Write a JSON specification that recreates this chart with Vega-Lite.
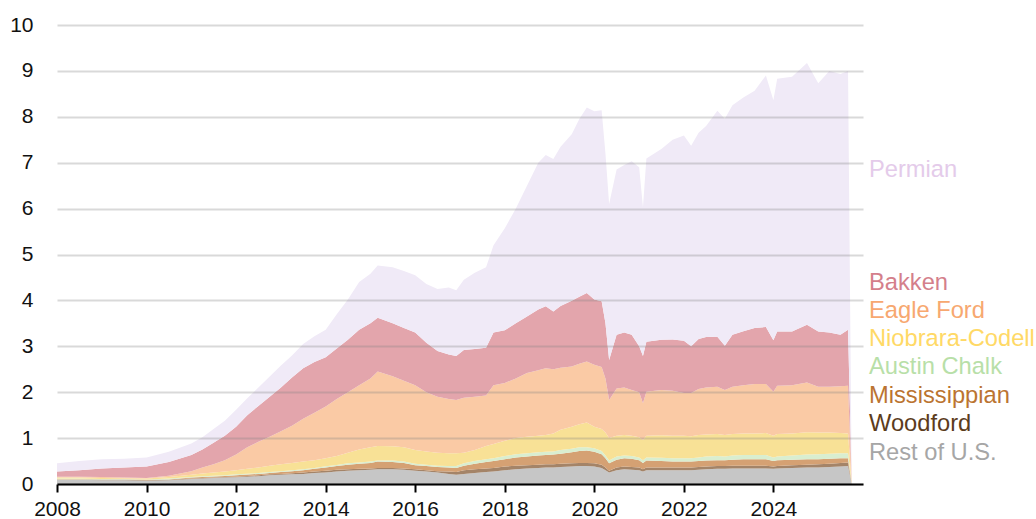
{
  "$schema": "https://vega.github.io/schema/vega-lite/v6.json",
  "width": 806,
  "height": 459,
  "autosize": {"type": "none"},
  "padding": {"left": 57, "top": 25, "right": 173, "bottom": 35},
  "background": "white",
  "config": {"view": {"stroke": null}, "font": "Liberation Sans"},
  "layer": [
    {
      "data": {"values": [
        {"d":"2008/01/01","Rest":0.09,"Woodford":0.005,"Mississippian":0.01,"Austin":0.015,"Niobrara":0.02,"Eagle":0.02,"Bakken":0.11,"Permian":0.18},
        {"d":"2008/07/01","Rest":0.09,"Woodford":0.005,"Mississippian":0.01,"Austin":0.015,"Niobrara":0.02,"Eagle":0.02,"Bakken":0.14,"Permian":0.2},
        {"d":"2009/01/01","Rest":0.08,"Woodford":0.01,"Mississippian":0.01,"Austin":0.01,"Niobrara":0.02,"Eagle":0.02,"Bakken":0.19,"Permian":0.2},
        {"d":"2009/07/01","Rest":0.08,"Woodford":0.01,"Mississippian":0.01,"Austin":0.01,"Niobrara":0.015,"Eagle":0.015,"Bakken":0.22,"Permian":0.19},
        {"d":"2010/01/01","Rest":0.07,"Woodford":0.01,"Mississippian":0.01,"Austin":0.01,"Niobrara":0.02,"Eagle":0.01,"Bakken":0.25,"Permian":0.2},
        {"d":"2010/07/01","Rest":0.08,"Woodford":0.01,"Mississippian":0.01,"Austin":0.02,"Niobrara":0.03,"Eagle":0.03,"Bakken":0.3,"Permian":0.22},
        {"d":"2011/01/01","Rest":0.11,"Woodford":0.01,"Mississippian":0.02,"Austin":0.015,"Niobrara":0.045,"Eagle":0.08,"Bakken":0.35,"Permian":0.25},
        {"d":"2011/04/01","Rest":0.12,"Woodford":0.01,"Mississippian":0.025,"Austin":0.015,"Niobrara":0.06,"Eagle":0.13,"Bakken":0.39,"Permian":0.27},
        {"d":"2011/07/01","Rest":0.13,"Woodford":0.01,"Mississippian":0.025,"Austin":0.015,"Niobrara":0.07,"Eagle":0.18,"Bakken":0.47,"Permian":0.3},
        {"d":"2011/10/01","Rest":0.14,"Woodford":0.01,"Mississippian":0.025,"Austin":0.015,"Niobrara":0.08,"Eagle":0.25,"Bakken":0.53,"Permian":0.33},
        {"d":"2012/01/01","Rest":0.145,"Woodford":0.015,"Mississippian":0.03,"Austin":0.02,"Niobrara":0.09,"Eagle":0.34,"Bakken":0.61,"Permian":0.37},
        {"d":"2012/04/01","Rest":0.16,"Woodford":0.015,"Mississippian":0.03,"Austin":0.02,"Niobrara":0.105,"Eagle":0.47,"Bakken":0.7,"Permian":0.37},
        {"d":"2012/07/01","Rest":0.17,"Woodford":0.02,"Mississippian":0.03,"Austin":0.02,"Niobrara":0.12,"Eagle":0.56,"Bakken":0.78,"Permian":0.4},
        {"d":"2012/10/01","Rest":0.19,"Woodford":0.02,"Mississippian":0.03,"Austin":0.02,"Niobrara":0.14,"Eagle":0.63,"Bakken":0.87,"Permian":0.44},
        {"d":"2013/01/01","Rest":0.2,"Woodford":0.02,"Mississippian":0.04,"Austin":0.02,"Niobrara":0.15,"Eagle":0.72,"Bakken":0.95,"Permian":0.48},
        {"d":"2013/04/01","Rest":0.21,"Woodford":0.025,"Mississippian":0.045,"Austin":0.02,"Niobrara":0.16,"Eagle":0.81,"Bakken":1.05,"Permian":0.48},
        {"d":"2013/07/01","Rest":0.22,"Woodford":0.03,"Mississippian":0.05,"Austin":0.02,"Niobrara":0.17,"Eagle":0.93,"Bakken":1.1,"Permian":0.53},
        {"d":"2013/10/01","Rest":0.24,"Woodford":0.03,"Mississippian":0.06,"Austin":0.02,"Niobrara":0.17,"Eagle":1.03,"Bakken":1.11,"Permian":0.56},
        {"d":"2014/01/01","Rest":0.25,"Woodford":0.04,"Mississippian":0.07,"Austin":0.025,"Niobrara":0.175,"Eagle":1.13,"Bakken":1.07,"Permian":0.6},
        {"d":"2014/04/01","Rest":0.27,"Woodford":0.04,"Mississippian":0.08,"Austin":0.025,"Niobrara":0.195,"Eagle":1.24,"Bakken":1.1,"Permian":0.75},
        {"d":"2014/07/01","Rest":0.29,"Woodford":0.03,"Mississippian":0.1,"Austin":0.03,"Niobrara":0.23,"Eagle":1.32,"Bakken":1.14,"Permian":0.88},
        {"d":"2014/10/01","Rest":0.3,"Woodford":0.03,"Mississippian":0.11,"Austin":0.03,"Niobrara":0.28,"Eagle":1.4,"Bakken":1.21,"Permian":1.04},
        {"d":"2015/01/01","Rest":0.31,"Woodford":0.03,"Mississippian":0.12,"Austin":0.03,"Niobrara":0.31,"Eagle":1.5,"Bakken":1.2,"Permian":1.08},
        {"d":"2015/03/01","Rest":0.32,"Woodford":0.03,"Mississippian":0.14,"Austin":0.02,"Niobrara":0.32,"Eagle":1.62,"Bakken":1.17,"Permian":1.14},
        {"d":"2015/07/01","Rest":0.32,"Woodford":0.03,"Mississippian":0.13,"Austin":0.03,"Niobrara":0.31,"Eagle":1.53,"Bakken":1.15,"Permian":1.22},
        {"d":"2015/10/01","Rest":0.31,"Woodford":0.03,"Mississippian":0.12,"Austin":0.03,"Niobrara":0.31,"Eagle":1.45,"Bakken":1.15,"Permian":1.24},
        {"d":"2016/01/01","Rest":0.29,"Woodford":0.03,"Mississippian":0.09,"Austin":0.03,"Niobrara":0.3,"Eagle":1.41,"Bakken":1.15,"Permian":1.25},
        {"d":"2016/04/01","Rest":0.27,"Woodford":0.03,"Mississippian":0.09,"Austin":0.03,"Niobrara":0.29,"Eagle":1.29,"Bakken":1.08,"Permian":1.28},
        {"d":"2016/07/01","Rest":0.25,"Woodford":0.03,"Mississippian":0.09,"Austin":0.03,"Niobrara":0.28,"Eagle":1.22,"Bakken":1.0,"Permian":1.35},
        {"d":"2016/10/01","Rest":0.22,"Woodford":0.05,"Mississippian":0.09,"Austin":0.03,"Niobrara":0.28,"Eagle":1.18,"Bakken":0.97,"Permian":1.46},
        {"d":"2016/12/01","Rest":0.2,"Woodford":0.06,"Mississippian":0.09,"Austin":0.04,"Niobrara":0.28,"Eagle":1.16,"Bakken":0.96,"Permian":1.43},
        {"d":"2017/02/01","Rest":0.22,"Woodford":0.08,"Mississippian":0.1,"Austin":0.05,"Niobrara":0.23,"Eagle":1.2,"Bakken":1.04,"Permian":1.53},
        {"d":"2017/05/01","Rest":0.24,"Woodford":0.08,"Mississippian":0.12,"Austin":0.06,"Niobrara":0.24,"Eagle":1.16,"Bakken":1.04,"Permian":1.66},
        {"d":"2017/08/01","Rest":0.26,"Woodford":0.08,"Mississippian":0.14,"Austin":0.06,"Niobrara":0.29,"Eagle":1.1,"Bakken":1.04,"Permian":1.75},
        {"d":"2017/10/01","Rest":0.27,"Woodford":0.08,"Mississippian":0.15,"Austin":0.06,"Niobrara":0.31,"Eagle":1.28,"Bakken":1.15,"Permian":1.9},
        {"d":"2018/01/01","Rest":0.3,"Woodford":0.08,"Mississippian":0.16,"Austin":0.07,"Niobrara":0.33,"Eagle":1.26,"Bakken":1.15,"Permian":2.22},
        {"d":"2018/04/01","Rest":0.32,"Woodford":0.08,"Mississippian":0.18,"Austin":0.07,"Niobrara":0.35,"Eagle":1.3,"Bakken":1.2,"Permian":2.5},
        {"d":"2018/07/01","Rest":0.34,"Woodford":0.07,"Mississippian":0.19,"Austin":0.07,"Niobrara":0.36,"Eagle":1.39,"Bakken":1.23,"Permian":2.85},
        {"d":"2018/10/01","Rest":0.35,"Woodford":0.07,"Mississippian":0.2,"Austin":0.07,"Niobrara":0.36,"Eagle":1.43,"Bakken":1.32,"Permian":3.2},
        {"d":"2018/12/01","Rest":0.36,"Woodford":0.07,"Mississippian":0.2,"Austin":0.07,"Niobrara":0.37,"Eagle":1.45,"Bakken":1.35,"Permian":3.3},
        {"d":"2019/02/01","Rest":0.36,"Woodford":0.07,"Mississippian":0.21,"Austin":0.07,"Niobrara":0.39,"Eagle":1.4,"Bakken":1.26,"Permian":3.32},
        {"d":"2019/04/01","Rest":0.37,"Woodford":0.07,"Mississippian":0.22,"Austin":0.08,"Niobrara":0.44,"Eagle":1.35,"Bakken":1.35,"Permian":3.47},
        {"d":"2019/07/01","Rest":0.38,"Woodford":0.07,"Mississippian":0.24,"Austin":0.08,"Niobrara":0.48,"Eagle":1.31,"Bakken":1.43,"Permian":3.63},
        {"d":"2019/09/01","Rest":0.39,"Woodford":0.07,"Mississippian":0.26,"Austin":0.08,"Niobrara":0.5,"Eagle":1.32,"Bakken":1.46,"Permian":3.87},
        {"d":"2019/11/01","Rest":0.39,"Woodford":0.07,"Mississippian":0.27,"Austin":0.07,"Niobrara":0.54,"Eagle":1.33,"Bakken":1.49,"Permian":4.04},
        {"d":"2020/01/01","Rest":0.38,"Woodford":0.07,"Mississippian":0.25,"Austin":0.08,"Niobrara":0.47,"Eagle":1.35,"Bakken":1.42,"Permian":4.1},
        {"d":"2020/03/01","Rest":0.35,"Woodford":0.07,"Mississippian":0.23,"Austin":0.07,"Niobrara":0.48,"Eagle":1.35,"Bakken":1.43,"Permian":4.16},
        {"d":"2020/04/01","Rest":0.3,"Woodford":0.06,"Mississippian":0.2,"Austin":0.06,"Niobrara":0.5,"Eagle":1.18,"Bakken":1.2,"Permian":3.7},
        {"d":"2020/05/01","Rest":0.25,"Woodford":0.04,"Mississippian":0.16,"Austin":0.06,"Niobrara":0.49,"Eagle":0.83,"Bakken":0.87,"Permian":3.4},
        {"d":"2020/07/01","Rest":0.3,"Woodford":0.06,"Mississippian":0.17,"Austin":0.07,"Niobrara":0.45,"Eagle":1.03,"Bakken":1.17,"Permian":3.6},
        {"d":"2020/09/01","Rest":0.32,"Woodford":0.06,"Mississippian":0.18,"Austin":0.06,"Niobrara":0.45,"Eagle":1.03,"Bakken":1.2,"Permian":3.65},
        {"d":"2020/11/01","Rest":0.31,"Woodford":0.06,"Mississippian":0.18,"Austin":0.06,"Niobrara":0.44,"Eagle":1.0,"Bakken":1.2,"Permian":3.78},
        {"d":"2021/01/01","Rest":0.3,"Woodford":0.06,"Mississippian":0.16,"Austin":0.06,"Niobrara":0.44,"Eagle":0.98,"Bakken":1.0,"Permian":3.9},
        {"d":"2021/02/01","Rest":0.27,"Woodford":0.05,"Mississippian":0.14,"Austin":0.06,"Niobrara":0.44,"Eagle":0.8,"Bakken":1.03,"Permian":3.24},
        {"d":"2021/03/01","Rest":0.3,"Woodford":0.06,"Mississippian":0.15,"Austin":0.07,"Niobrara":0.47,"Eagle":0.96,"Bakken":1.09,"Permian":3.99},
        {"d":"2021/07/01","Rest":0.3,"Woodford":0.06,"Mississippian":0.14,"Austin":0.07,"Niobrara":0.49,"Eagle":0.99,"Bakken":1.09,"Permian":4.16},
        {"d":"2021/10/01","Rest":0.3,"Woodford":0.06,"Mississippian":0.13,"Austin":0.07,"Niobrara":0.49,"Eagle":0.98,"Bakken":1.12,"Permian":4.35},
        {"d":"2022/01/01","Rest":0.3,"Woodford":0.06,"Mississippian":0.13,"Austin":0.07,"Niobrara":0.49,"Eagle":0.93,"Bakken":1.14,"Permian":4.47},
        {"d":"2022/03/01","Rest":0.3,"Woodford":0.06,"Mississippian":0.13,"Austin":0.07,"Niobrara":0.48,"Eagle":0.94,"Bakken":1.02,"Permian":4.37},
        {"d":"2022/05/01","Rest":0.31,"Woodford":0.06,"Mississippian":0.13,"Austin":0.08,"Niobrara":0.49,"Eagle":1.0,"Bakken":1.09,"Permian":4.49},
        {"d":"2022/07/01","Rest":0.32,"Woodford":0.06,"Mississippian":0.13,"Austin":0.09,"Niobrara":0.48,"Eagle":1.02,"Bakken":1.1,"Permian":4.6},
        {"d":"2022/10/01","Rest":0.33,"Woodford":0.06,"Mississippian":0.13,"Austin":0.09,"Niobrara":0.48,"Eagle":1.03,"Bakken":1.09,"Permian":4.92},
        {"d":"2022/12/01","Rest":0.33,"Woodford":0.06,"Mississippian":0.13,"Austin":0.08,"Niobrara":0.47,"Eagle":0.98,"Bakken":0.96,"Permian":4.95},
        {"d":"2023/02/01","Rest":0.34,"Woodford":0.06,"Mississippian":0.13,"Austin":0.09,"Niobrara":0.47,"Eagle":1.03,"Bakken":1.13,"Permian":5.0},
        {"d":"2023/05/01","Rest":0.34,"Woodford":0.06,"Mississippian":0.14,"Austin":0.09,"Niobrara":0.47,"Eagle":1.05,"Bakken":1.18,"Permian":5.09},
        {"d":"2023/08/01","Rest":0.34,"Woodford":0.06,"Mississippian":0.14,"Austin":0.09,"Niobrara":0.47,"Eagle":1.08,"Bakken":1.22,"Permian":5.17},
        {"d":"2023/11/01","Rest":0.34,"Woodford":0.06,"Mississippian":0.14,"Austin":0.09,"Niobrara":0.48,"Eagle":1.07,"Bakken":1.24,"Permian":5.48},
        {"d":"2024/01/01","Rest":0.33,"Woodford":0.05,"Mississippian":0.12,"Austin":0.08,"Niobrara":0.47,"Eagle":0.96,"Bakken":1.12,"Permian":5.23},
        {"d":"2024/02/01","Rest":0.34,"Woodford":0.05,"Mississippian":0.13,"Austin":0.08,"Niobrara":0.49,"Eagle":1.05,"Bakken":1.18,"Permian":5.51},
        {"d":"2024/06/01","Rest":0.35,"Woodford":0.06,"Mississippian":0.12,"Austin":0.09,"Niobrara":0.48,"Eagle":1.05,"Bakken":1.17,"Permian":5.55},
        {"d":"2024/10/01","Rest":0.36,"Woodford":0.06,"Mississippian":0.12,"Austin":0.1,"Niobrara":0.49,"Eagle":1.08,"Bakken":1.26,"Permian":5.7},
        {"d":"2025/01/01","Rest":0.36,"Woodford":0.07,"Mississippian":0.11,"Austin":0.11,"Niobrara":0.47,"Eagle":1.0,"Bakken":1.2,"Permian":5.41},
        {"d":"2025/04/01","Rest":0.37,"Woodford":0.07,"Mississippian":0.11,"Austin":0.11,"Niobrara":0.46,"Eagle":1.0,"Bakken":1.18,"Permian":5.7},
        {"d":"2025/07/01","Rest":0.38,"Woodford":0.08,"Mississippian":0.1,"Austin":0.11,"Niobrara":0.44,"Eagle":1.02,"Bakken":1.12,"Permian":5.68},
        {"d":"2025/09/01","Rest":0.39,"Woodford":0.08,"Mississippian":0.09,"Austin":0.11,"Niobrara":0.43,"Eagle":1.04,"Bakken":1.22,"Permian":5.64},
        {"d":"2025/10/01","Rest":0,"Woodford":0,"Mississippian":0,"Austin":0,"Niobrara":0,"Eagle":0,"Bakken":0,"Permian":0}
      ]},
      "transform": [
        {"fold": ["Rest","Woodford","Mississippian","Austin","Niobrara","Eagle","Bakken","Permian"], "as": ["series","value"]},
        {"lookup": "series", "from": {"data": {"values": [
          {"series":"Rest","k":1},{"series":"Woodford","k":2},{"series":"Mississippian","k":3},{"series":"Austin","k":4},
          {"series":"Niobrara","k":5},{"series":"Eagle","k":6},{"series":"Bakken","k":7},{"series":"Permian","k":8}
        ]}, "key": "series", "fields": ["k"]}}
      ],
      "mark": {"type": "area", "interpolate": "linear"},
      "encoding": {
        "x": {
          "field": "d", "type": "temporal",
          "scale": {"domain": [{"year":2008,"month":1,"date":1},{"year":2026,"month":1,"date":1}]},
          "axis": {
            "title": null, "format": "%Y",
            "values": [{"year":2008,"month":1,"date":1},{"year":2010,"month":1,"date":1},{"year":2012,"month":1,"date":1},{"year":2014,"month":1,"date":1},{"year":2016,"month":1,"date":1},{"year":2018,"month":1,"date":1},{"year":2020,"month":1,"date":1},{"year":2022,"month":1,"date":1},{"year":2024,"month":1,"date":1}],
            "grid": false, "domainColor": "#000000", "domainWidth": 2, "tickColor": "#000000", "tickWidth": 2, "tickSize": 8,
            "labelFontSize": 21, "labelColor": "#111111", "labelPadding": 6, "labelFlush": false, "labelFont": "Liberation Sans", "zindex": 1
          }
        },
        "y": {
          "field": "value", "type": "quantitative", "stack": "zero",
          "scale": {"domain": [0, 10], "nice": false},
          "axis": {
            "title": null, "values": [0,1,2,3,4,5,6,7,8,9,10], "domain": false, "ticks": false, "tickSize": 0,
            "grid": true, "gridColor": "#808080", "gridOpacity": 0.3, "gridWidth": 2,
            "labelFontSize": 21, "labelColor": "#111111", "labelPadding": 24, "labelFont": "Liberation Sans", "zindex": 1
          }
        },
        "color": {
          "field": "series", "type": "nominal", "legend": null,
          "scale": {
            "domain": ["Rest","Woodford","Mississippian","Austin","Niobrara","Eagle","Bakken","Permian"],
            "range": ["#c6c6c6","#a48468","#d5a173","#d9eed0","#f8e196","#facaa5","#e3a5ac","#f0eaf7"]
          }
        },
        "order": {"field": "k", "type": "quantitative", "sort": "ascending"}
      }
    },
    {
      "data": {"values": [
        {"name":"Permian","pos":6.84},
        {"name":"Bakken","pos":4.38},
        {"name":"Eagle Ford","pos":3.77},
        {"name":"Niobrara-Codell","pos":3.16},
        {"name":"Austin Chalk","pos":2.55},
        {"name":"Mississippian","pos":1.92},
        {"name":"Woodford","pos":1.31},
        {"name":"Rest of U.S.","pos":0.68}
      ]},
      "mark": {"type": "text", "align": "left", "baseline": "middle", "dx": 6, "fontSize": 23.7, "font": "Liberation Sans"},
      "encoding": {
        "x": {"datum": {"year":2026,"month":1,"date":1}, "type": "temporal"},
        "y": {"field": "pos", "type": "quantitative"},
        "text": {"field": "name"},
        "color": {
          "field": "name", "type": "nominal", "legend": null,
          "scale": {
            "domain": ["Permian","Bakken","Eagle Ford","Niobrara-Codell","Austin Chalk","Mississippian","Woodford","Rest of U.S."],
            "range": ["#e4cbea","#d47f8b","#f7a870","#ffd966","#b8dfa8","#bb7431","#5c3c1c","#a6a6a6"]
          }
        }
      }
    }
  ],
  "resolve": {"scale": {"color": "independent"}}
}
